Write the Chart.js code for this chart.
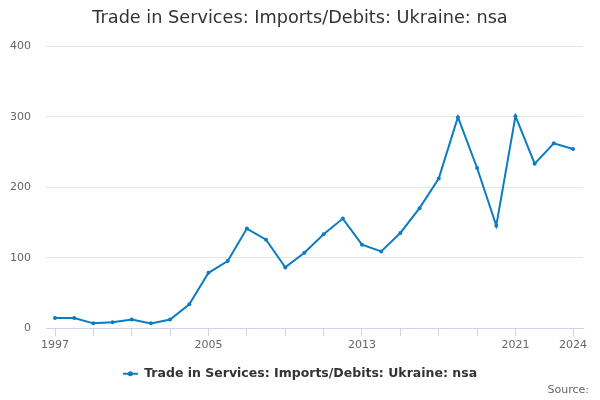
<!DOCTYPE html>
<html><head><meta charset="utf-8">
<script src="https://cdn.jsdelivr.net/npm/chart.js@4"></script>
<style>html,body{margin:0;padding:0;background:#fff}#wrap{width:600px;height:400px}</style>
</head><body><div id="wrap"><canvas id="c" width="600" height="400"></canvas></div>
<script>
const years = [1997,1998,1999,2000,2001,2002,2003,2004,2005,2006,2007,2008,2009,2010,2011,2012,2013,2014,2015,2016,2017,2018,2019,2020,2021,2022,2023,2024];
const imports = [14.7,14.5,7,8.5,12.4,7,12.4,34,78.7,95.4,141.4,125.7,86.4,107.2,133.3,155.6,118.6,109,135.2,170.4,212.5,299.4,227.3,145.6,300.8,233.5,262.4,254.3];
const tickYears = [1997,1999,2001,2003,2005,2007,2009,2011,2013,2015,2017,2019,2021,2024];
const labelYears = [1997,2005,2013,2021,2024];
const yTicks = [0,100,200,300,400];
const seriesName = 'Trade in Services: Imports/Debits: Ukraine: nsa';
const titleText = 'Trade in Services: Imports/Debits: Ukraine: nsa';
const sourceText = 'Source:';
const lineColor = '#0d7cc0';

const points = years.map((y,i)=>({x:y,y:imports[i]}));

const sourcePlugin = {
  id:'sourceText',
  afterDraw(chart){
    const ctx = chart.ctx;
    ctx.save();
    ctx.font = '11px "DejaVu Sans"';
    ctx.fillStyle = '#666';
    ctx.textAlign = 'right';
    ctx.textBaseline = 'middle';
    ctx.fillText(sourceText, 589, 390);
    const lg = chart.legend;
    if (lg && lg.legendHitBoxes && lg.legendHitBoxes.length){
      const hb = lg.legendHitBoxes[0];
      const cy = hb.top + hb.height/2;
      ctx.strokeStyle = lineColor;
      ctx.lineWidth = 2;
      ctx.beginPath();
      ctx.moveTo(hb.left, cy);
      ctx.lineTo(hb.left + 15, cy);
      ctx.stroke();
      ctx.fillStyle = lineColor;
      ctx.beginPath();
      ctx.arc(hb.left + 7.5, cy, 2.5, 0, Math.PI*2);
      ctx.fill();
    }
    ctx.restore();
  }
};

new Chart(document.getElementById('c'), {
  type:'line',
  data:{datasets:[{
    label:seriesName,
    data:points,
    borderColor:lineColor,
    backgroundColor:lineColor,
    borderWidth:2,
    pointRadius:2,
    pointBackgroundColor:lineColor,
    pointBorderWidth:0,
    tension:0,
    xAxisID:'x',
    yAxisID:'y'
  }]},
  options:{
    responsive:false,
    animation:false,
    devicePixelRatio:1,
    layout:{padding:{left:0,right:0,top:0,bottom:10}},
    plugins:{
      title:{display:true,text:titleText,color:'#333',font:{family:'"DejaVu Sans"',size:17.7,weight:'normal'},padding:{top:8,bottom:17}},
      legend:{position:'bottom',labels:{color:'#333',font:{family:'"DejaVu Sans"',size:12.5,weight:'bold'},usePointStyle:false,boxWidth:15,boxHeight:0,padding:14,
        generateLabels:(chart)=>[{text:seriesName,fillStyle:'rgba(0,0,0,0)',strokeStyle:'rgba(0,0,0,0)',lineWidth:0,datasetIndex:0,fontColor:'#333'}]}},
      tooltip:{enabled:false}
    },
    scales:{
      x:{
        type:'linear',
        min:1996.53,max:2024.52,
        afterBuildTicks(axis){axis.ticks = tickYears.map(v=>({value:v}));},
        ticks:{autoSkip:false,maxRotation:0,color:'#666',font:{family:'"DejaVu Sans"',size:11},padding:2,
          callback:(v)=>labelYears.includes(v)?String(v):''},
        grid:{drawOnChartArea:false,drawTicks:true,tickLength:8,tickColor:'#ccd6eb'},
        border:{color:'#ccd6eb',width:1}
      },
      y:{
        min:0,max:400,
        afterBuildTicks(axis){axis.ticks = yTicks.map(v=>({value:v}));},
        afterFit(axis){axis.width = 46;},
        ticks:{color:'#666',font:{family:'"DejaVu Sans"',size:11},padding:15},
        grid:{color:'#e6e6e6',drawTicks:false},
        border:{display:false}
      },
      yRight:{
        type:'linear',
        position:'right',
        min:0,max:400,
        afterFit(axis){axis.width = 17;},
        ticks:{display:false},
        grid:{display:false,drawOnChartArea:false,drawTicks:false},
        border:{display:false}
      }
    }
  },
  plugins:[sourcePlugin]
});
</script></body></html>
